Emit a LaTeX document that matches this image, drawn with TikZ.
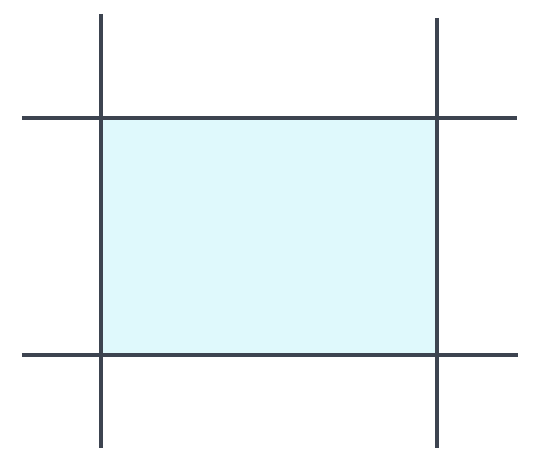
\documentclass[tikz,border=0pt]{standalone}
\definecolor{gridline}{HTML}{3D4450}
\definecolor{cellfill}{HTML}{DFF9FC}
\begin{document}
\begin{tikzpicture}[x=1cm,y=1cm,gridstroke/.style={draw=gridline,line width=1.4pt}]
        \useasboundingbox (0,0) rectangle (5.39,4.60);
        % corners of the cell
        \coordinate (tl) at (1.01,3.42);
        \coordinate (tr) at (4.37,3.42);
        \coordinate (bl) at (1.01,1.05);
        \coordinate (br) at (4.37,1.05);
        \fill[cellfill] (tl) rectangle (br);
        \draw[gridstroke] (1.01,4.46) coordinate (lt) -- (1.01,0.12) coordinate (lb);
        \draw[gridstroke] (4.37,4.42) coordinate (rt) -- (4.37,0.12) coordinate (rb);
        \draw[gridstroke] (0.22,3.42) coordinate (tw) -- (5.17,3.42) coordinate (te);
        \draw[gridstroke] (0.22,1.05) coordinate (bw) -- (5.18,1.05) coordinate (be);
    \end{tikzpicture}
\end{document}
